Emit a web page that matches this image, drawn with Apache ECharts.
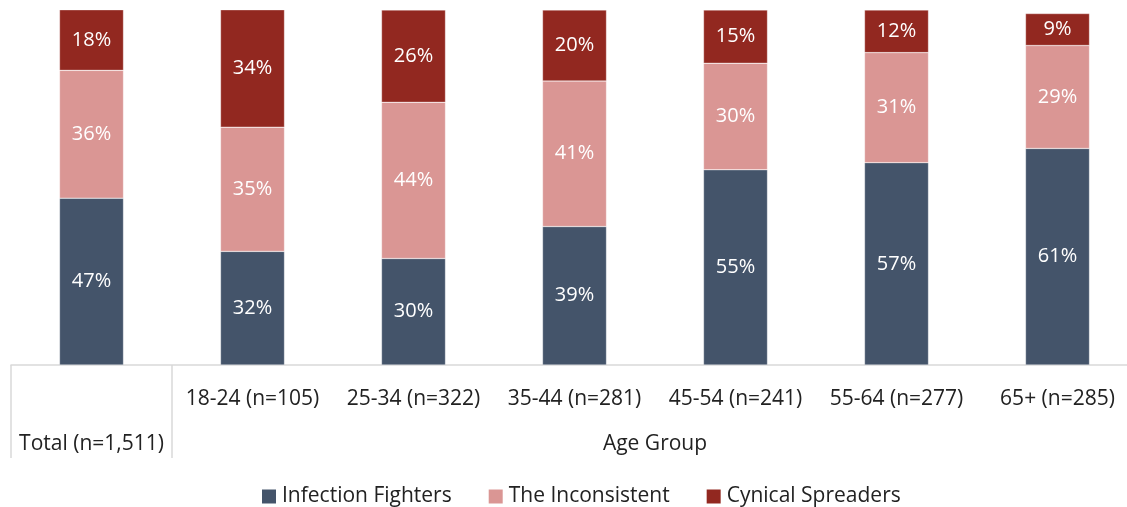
<!DOCTYPE html>
<html>
<head>
<meta charset="utf-8">
<script src="https://cdn.jsdelivr.net/npm/echarts@6/dist/echarts.min.js"></script>
<style>
  html, body { margin: 0; padding: 0; background: #fff; }
  #chart { width: 1127px; height: 507px; }
</style>
</head>
<body>
<div id="chart"></div>
<script>
  // categories along the x axis
  var categories = ['Total (n=1,511)', '18-24 (n=105)', '25-34 (n=322)', '35-44 (n=281)',
    '45-54 (n=241)', '55-64 (n=277)', '65+ (n=285)']
  // series values, percent
  var infectionFighters = [47, 32, 30, 39, 55, 57, 61]
  var inconsistent = [36, 35, 44, 41, 30, 31, 29]
  var cynicalSpreaders = [18, 34, 26, 20, 15, 12, 9]
  var groupLabel = 'Age Group'

  var font = '"Open Sans", "Noto Sans", sans-serif'
  var fontSize = 21
  var chart = echarts.init(document.getElementById('chart'))

  function makeSeries (name, data, color) {
    return {
      name: name,
      type: 'bar',
      stack: 'all',
      barWidth: 64,
      data: data,
      itemStyle: { color: color, borderColor: 'rgba(255,255,255,0.6)', borderWidth: 0.5 },
      label: {
        show: true,
        position: 'inside',
        color: '#fff',
        fontSize: 20,
        fontFamily: font,
        formatter: '{c}%'
      }
    }
  }

  chart.setOption({
    animation: false,
    // the last band runs past the right edge of the canvas, as in the original
    grid: { left: 11, top: 10, bottom: 142, width: 1127, outerBoundsMode: 'none', containLabel: false },
    legend: {
      top: 486,
      left: 262,
      padding: 0,
      icon: 'rect',
      itemWidth: 14,
      itemHeight: 14,
      itemGap: 37,
      itemStyle: { borderWidth: 0 },
      textStyle: { fontSize: fontSize, fontFamily: font, color: '#222', padding: [0, 0, 0, 1] }
    },
    xAxis: {
      type: 'category',
      data: categories,
      axisLine: { lineStyle: { color: '#d9d9d9', width: 1.5 } },
      axisTick: {
        show: true,
        length: 93,
        interval: function (index) { return index <= 1 },
        lineStyle: { color: '#d9d9d9', width: 1.5 }
      },
      axisLabel: {
        interval: 0,
        hideOverlap: false,
        margin: 24,
        fontSize: fontSize,
        fontFamily: font,
        color: '#222',
        formatter: function (value, index) { return index === 0 ? '' : value }
      }
    },
    yAxis: {
      type: 'value',
      min: 0,
      max: 100,
      show: false,
      splitLine: { show: false }
    },
    series: [
      makeSeries('Infection Fighters', infectionFighters, '#44546a'),
      makeSeries('The Inconsistent', inconsistent, '#da9694'),
      makeSeries('Cynical Spreaders', cynicalSpreaders, '#922820')
    ]
  })

  // second label row: Total under its own band, Age Group centred under the rest
  var first = chart.convertToPixel({ xAxisIndex: 0 }, categories[0])
  var second = chart.convertToPixel({ xAxisIndex: 0 }, categories[1])
  var last = chart.convertToPixel({ xAxisIndex: 0 }, categories[categories.length - 1])
  var band = second - first
  var rowY = chart.convertToPixel({ yAxisIndex: 0 }, 0) + 79
  var rowStyle = { fontSize: fontSize, fontFamily: font, fill: '#222', align: 'center', verticalAlign: 'middle' }

  chart.setOption({
    graphic: [
      { type: 'text', x: first, y: rowY, style: Object.assign({ text: categories[0] }, rowStyle) },
      { type: 'text', x: (second - band / 2 + last + band / 2) / 2, y: rowY, style: Object.assign({ text: groupLabel }, rowStyle) }
    ]
  })
</script>
</body>
</html>
